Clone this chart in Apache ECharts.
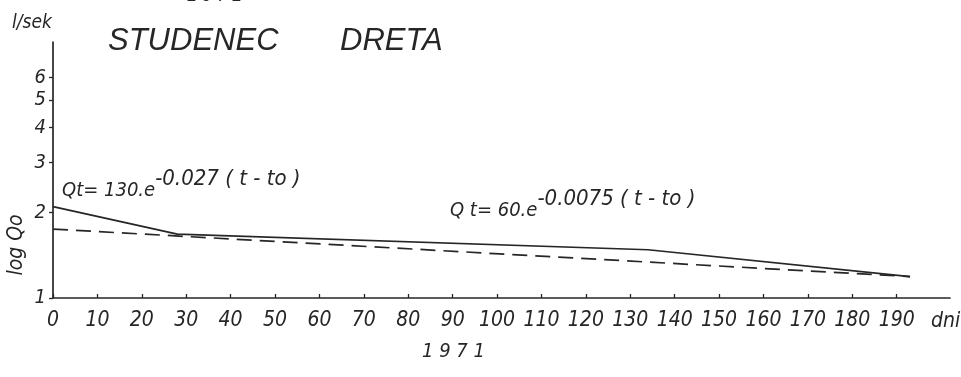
<!DOCTYPE html>
<html>
<head>
<meta charset="utf-8">
<script src="https://cdn.jsdelivr.net/npm/echarts@6/dist/echarts.min.js"></script>
<style>html,body{margin:0;padding:0;background:#fff}#c{width:961px;height:377px}</style>
</head>
<body>
<div id="c"></div>
<script>
// Data (days, discharge l/sek on log scale)
const solidDays = [0, 28, 134, 193];
const solidValues = [2.10, 1.68, 1.48, 1.19];
const dashedDays = [0, 193];
const dashedValues = [1.75, 1.19];
const xTicks = [0,10,20,30,40,50,60,70,80,90,100,110,120,130,140,150,160,170,180,190];
const yTicks = [1,2,3,4,5,6];

const FONT = '"Liberation Sans Narrow", "DejaVu Sans Condensed", "Liberation Sans", sans-serif';
const FONTW = '"Liberation Sans", "DejaVu Sans", sans-serif';
const INK = '#262626';

const chart = echarts.init(document.getElementById('c'));
chart.setOption({
  backgroundColor: '#fff',
  animation: false,
  grid: {left: 53, right: 11, top: 42, bottom: 79},
  xAxis: {
    type: 'value', min: 0, max: 202,
    axisLine: {lineStyle: {color: INK, width: 1.7}},
    axisTick: {customValues: xTicks, inside: true, length: 4, lineStyle: {color: INK, width: 1.3}},
    splitLine: {show: false},
    axisLabel: {customValues: xTicks, color: INK, fontFamily: FONT, fontStyle: 'italic', fontSize: 21, margin: 12}
  },
  yAxis: {
    type: 'log', logBase: 10, min: 1, max: 8,
    axisLine: {show: true, lineStyle: {color: INK, width: 1.7}},
    axisTick: {show: true, customValues: yTicks, length: 4, lineStyle: {color: INK, width: 1.3}},
    splitLine: {show: false},
    axisLabel: {customValues: yTicks, color: INK, fontFamily: FONT, fontStyle: 'italic', fontSize: 20, margin: 7}
  },
  series: [
    {type: 'line', data: solidDays.map((d, i) => [d, solidValues[i]]), showSymbol: false,
     lineStyle: {color: INK, width: 1.7}},
    {type: 'line', data: dashedDays.map((d, i) => [d, dashedValues[i]]), showSymbol: false,
     lineStyle: {color: INK, width: 1.7, type: [15, 8]}}
  ],
  graphic: [
    {type: 'text', left: 187, top: -13, style: {text: '1 9 7 1', font: 'italic 18px ' + FONTW, fill: INK}},
    {type: 'text', left: 12, top: 14, style: {text: 'l/sek', font: 'italic 19px ' + FONT, fill: INK}},
    {type: 'text', left: 108, top: 26, style: {text: 'STUDENEC', font: 'italic 31px ' + FONTW, fill: INK}},
    {type: 'text', left: 340, top: 26, style: {text: 'DRETA', font: 'italic 31px ' + FONTW, fill: INK}},
    {type: 'text', x: 17, y: 245, rotation: Math.PI / 2, style: {text: 'log Qo', font: 'italic 21px ' + FONT, fill: INK, align: 'center', verticalAlign: 'middle'}},
    {type: 'text', left: 62, top: 168, style: {
      text: '{b|Qt= 130.e}{s|-0.027 ( t - to )}',
      rich: {
        b: {font: 'italic 20px ' + FONT, fill: INK, padding: [16, 0, 0, 0]},
        s: {font: 'italic 22px ' + FONT, fill: INK, padding: [0, 0, 8, 0]}
      }}},
    {type: 'text', left: 450, top: 188, style: {
      text: '{b|Q t= 60.e}{s|-0.0075 ( t - to )}',
      rich: {
        b: {font: 'italic 20px ' + FONT, fill: INK, padding: [16, 0, 0, 0]},
        s: {font: 'italic 22px ' + FONT, fill: INK, padding: [0, 0, 8, 0]}
      }}},
    {type: 'text', left: 931, top: 311, style: {text: 'dni', font: 'italic 21px ' + FONT, fill: INK}},
    {type: 'text', left: 422, top: 342, style: {text: '1 9 7 1', font: 'italic 20px ' + FONT, fill: INK}}
  ]
});
</script>
</body>
</html>
